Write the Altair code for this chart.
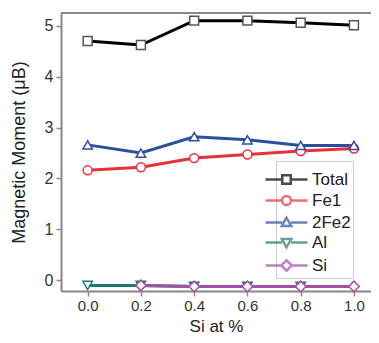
import altair as alt
import pandas as pd

# ---- data ----
si_pct = [0.0, 0.2, 0.4, 0.6, 0.8, 1.0]
total = [4.70, 4.62, 5.10, 5.10, 5.06, 5.01]
fe1 = [2.16, 2.22, 2.40, 2.47, 2.54, 2.59]
fe2 = [2.66, 2.50, 2.82, 2.76, 2.65, 2.65]
al_x = [0.0, 0.2, 0.4, 0.6, 0.8]
al = [-0.10, -0.10, -0.12, -0.12, -0.12]
si_x = [0.2, 0.4, 0.6, 0.8, 1.0]
si = [-0.10, -0.12, -0.12, -0.12, -0.12]

names = ["Total", "Fe1", "2Fe2", "Al", "Si"]
colors = ["#000000", "#e8303a", "#2d4fa0", "#1b7a72", "#a24fa6"]
marker_stroke = ["#555555", "#e8303a", "#2d4fa0", "#1b7a72", "#a24fa6"]
markers = ["square", "circle", "triangle-up", "triangle-down", "diamond"]
marker_size = [80, 80, 90, 90, 110]

rows = []
for name, xs, ys in [
    ("Total", si_pct, total),
    ("Fe1", si_pct, fe1),
    ("2Fe2", si_pct, fe2),
    ("Al", al_x, al),
    ("Si", si_x, si),
]:
    for xv, yv in zip(xs, ys):
        rows.append({"series": name, "x": xv, "y": yv, "k": names.index(name)})
df = pd.DataFrame(rows)

# legend symbols: line + hollow marker (unit = sqrt(size)/2 px)
seg = "M-4.2,0H-0.9M0.9,0H4.2"
legend_paths = [
    seg + "M-0.85,-0.85H0.85V0.85H-0.85Z",
    seg + "M-0.9,0A0.9,0.9 0 1,0 0.9,0A0.9,0.9 0 1,0 -0.9,0",
    seg + "M0,-0.95L0.95,0.7L-0.95,0.7Z",
    seg + "M0,0.95L0.95,-0.7L-0.95,-0.7Z",
    seg + "M0,-1.05L1.05,0L0,1.05L-1.05,0Z",
]

PLOT_W = 310
PLOT_H = 278

xscale = alt.Scale(domain=[-0.1, 1.064], nice=False, zero=False)
yscale = alt.Scale(domain=[-0.21, 5.25], nice=False, zero=False)
cscale = alt.Scale(domain=names, range=colors)

xenc = alt.X(
    "x:Q",
    scale=xscale,
    axis=alt.Axis(
        values=si_pct,
        format=".1f",
        title="Si at %",
        titleBaseline="alphabetic",
        titleY=40,
        labelFontSize=15,
    ),
)
yenc = alt.Y(
    "y:Q",
    scale=yscale,
    axis=alt.Axis(values=[0, 1, 2, 3, 4, 5], format="d", title="Magnetic Moment (μB)"),
)

legend_def = alt.Legend(title=" ")

lines = (
    alt.Chart(df)
    .mark_line(strokeWidth=3)
    .encode(
        x=xenc,
        y=yenc,
        color=alt.Color("series:N", scale=cscale, legend=legend_def),
        order="x:Q",
    )
)

# top frame line of the plot box
top_frame = alt.Chart(df).mark_rule(color="#888888", strokeWidth=1.5).encode(
    x=alt.value(0), x2=alt.value(PLOT_W), y=alt.value(0)
)

point_layers = []
for i, name in enumerate(names):
    point_layers.append(
        alt.Chart(df)
        .transform_filter(alt.datum.series == name)
        .mark_point(
            shape=markers[i],
            filled=True,
            fill="white",
            stroke=marker_stroke[i],
            strokeWidth=1.5,
            size=marker_size[i],
            opacity=1,
        )
        .encode(x="x:Q", y="y:Q")
    )

legend_layer = (
    alt.Chart(df)
    .transform_filter("datum.x > 100")
    .mark_point(filled=False, strokeWidth=2.5)
    .encode(
        x="x:Q",
        y="y:Q",
        color=alt.Color("series:N", scale=cscale, legend=legend_def),
        shape=alt.Shape(
            "series:N",
            scale=alt.Scale(domain=names, range=legend_paths),
            legend=legend_def,
        ),
    )
)

chart = (
    alt.layer(lines, top_frame, *point_layers, legend_layer)
    .properties(
        width=PLOT_W,
        height=PLOT_H,
        autosize=alt.AutoSizeParams(type="none"),
        padding={"left": 53, "top": 5, "right": 0, "bottom": 44},
    )
    .configure(font="Liberation Sans")
    .configure_view(strokeWidth=0)
    .configure_axis(
        grid=False,
        domainColor="#888888",
        domainWidth=2,
        tickColor="#888888",
        tickWidth=1.5,
        tickSize=5,
        labelFontSize=16,
        labelColor="#333333",
        labelPadding=2,
        titleFontSize=17,
        titleFontWeight="normal",
        titleColor="#222222",
    )
    .configure_axisY(titlePadding=16, titleFontSize=18, labelPadding=3)
    .configure_legend(
        orient="none",
        legendX=215,
        legendY=148,
        strokeColor="#cccccc",
        fillColor="white",
        padding=2,
        titleFontSize=6,
        titlePadding=2,
        labelFontSize=17,
        labelColor="#222222",
        symbolSize=100,
        symbolStrokeWidth=2.5,
        labelOffset=17,
        rowPadding=2,
    )
)

chart.save("out.html", embed_options={"renderer": "svg", "actions": False})
